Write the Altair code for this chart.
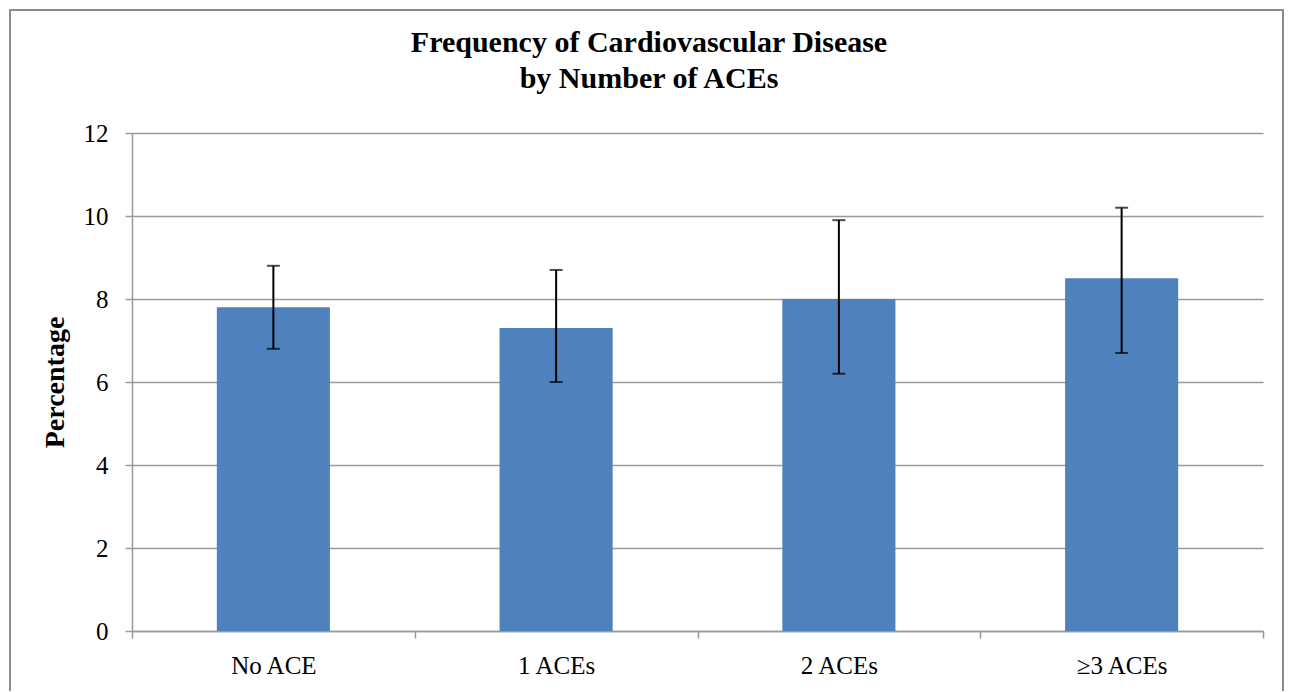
import altair as alt
import pandas as pd

categories = ["No ACE", "1 ACEs", "2 ACEs", "≥3 ACEs"]
percent = [7.8, 7.3, 8.0, 8.5]
ci_low = [6.8, 6.0, 6.2, 6.7]
ci_high = [8.8, 8.7, 9.9, 10.2]
y_ticks = [0, 2, 4, 6, 8, 10, 12]
title_lines = ["Frequency of Cardiovascular Disease", "by Number of ACEs"]

df = pd.DataFrame({"cat": categories, "pct": percent, "lo": ci_low, "hi": ci_high})

FONT = "Liberation Serif"
GRID = "#9a9a9a"
W, H = 1131, 498

x = alt.X(
    "cat:N",
    sort=categories,
    title=None,
    scale=alt.Scale(paddingInner=0, paddingOuter=0),
    axis=alt.Axis(
        labelAngle=0,
        labelFont=FONT,
        labelFontSize=25,
        labelColor="black",
        labelPadding=15,
        tickBand="extent",
        tickSize=7,
        tickColor=GRID,
        tickWidth=1.5,
        domainColor=GRID,
        domainWidth=1.5,
        grid=False,
    ),
)
y_scale = alt.Scale(domain=[0, 12], nice=False)
y_axis = alt.Axis(
    values=y_ticks,
    labelFont=FONT,
    labelFontSize=25,
    labelColor="black",
    labelPadding=17,
    tickSize=7,
    tickColor=GRID,
    tickWidth=1.5,
    domainColor=GRID,
    domainWidth=1.5,
    grid=True,
    gridColor=GRID,
    gridWidth=1.5,
    title="Percentage",
    titleFont=FONT,
    titleFontSize=28,
    titleFontWeight="bold",
    titleColor="black",
    titlePadding=14,
)

bars = alt.Chart(df).mark_bar(color="#4F81BD", width=alt.RelativeBandSize(0.4)).encode(
    x=x,
    y=alt.Y("pct:Q", scale=y_scale, axis=y_axis),
)
rules = alt.Chart(df).mark_rule(color="black", strokeWidth=2).encode(
    x=alt.X("cat:N", sort=categories),
    y="lo:Q",
    y2="hi:Q",
)
cap_lo = alt.Chart(df).mark_tick(color="black", thickness=2, size=13, orient="horizontal").encode(
    x=alt.X("cat:N", sort=categories),
    y="lo:Q",
)
cap_hi = alt.Chart(df).mark_tick(color="black", thickness=2, size=13, orient="horizontal").encode(
    x=alt.X("cat:N", sort=categories),
    y="hi:Q",
)
one = alt.Data(values=[{"a": 1}])
frame = alt.Chart(one).mark_rect(
    fill="transparent", stroke="#8c8c8c", strokeWidth=2, clip=False
).encode(
    x=alt.value(-122), x2=alt.value(W + 20), y=alt.value(-123), y2=alt.value(H + 100)
)
title1 = alt.Chart(one).mark_text(
    text=title_lines[0], font=FONT, fontSize=30, fontWeight="bold", color="black",
    align="center", baseline="alphabetic",
).encode(x=alt.value(517), y=alt.value(-81))
title2 = alt.Chart(one).mark_text(
    text=title_lines[1], font=FONT, fontSize=30, fontWeight="bold", color="black",
    align="center", baseline="alphabetic",
).encode(x=alt.value(517), y=alt.value(-45))

chart = alt.layer(frame, title1, title2, bars, rules, cap_lo, cap_hi).properties(
    width=W,
    height=H,
    padding={"left": 124, "top": 125, "right": 22, "bottom": 60},
    autosize=alt.AutoSizeParams(type="none"),
).configure_view(stroke=None)

chart.save("out.html", embed_options={"renderer": "svg", "actions": False})
